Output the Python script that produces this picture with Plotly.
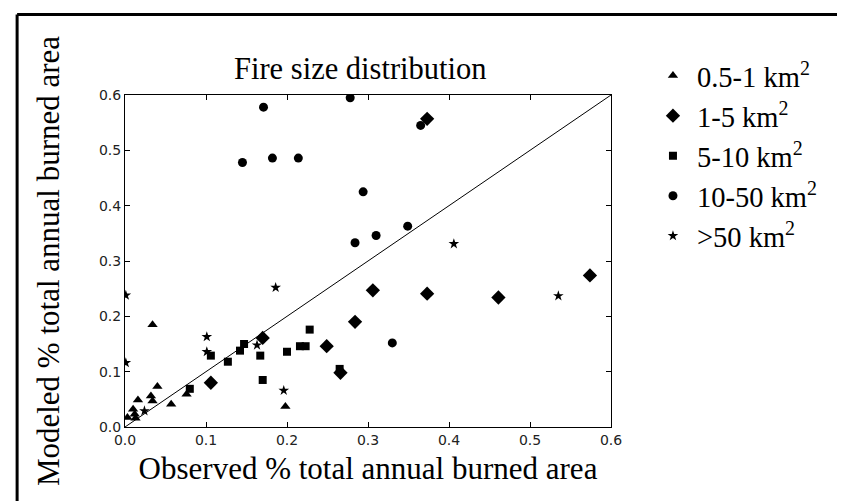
import plotly.graph_objects as go

# ---- data ----
tri_x = [0.003, 0.010, 0.012, 0.013, 0.016, 0.032, 0.034, 0.040, 0.057, 0.076, 0.034, 0.198]
tri_y = [0.017, 0.032, 0.023, 0.016, 0.049, 0.056, 0.047, 0.073, 0.041, 0.059, 0.185, 0.037]

dia_x = [0.106, 0.170, 0.249, 0.266, 0.284, 0.306, 0.373, 0.461, 0.574, 0.373]
dia_y = [0.080, 0.161, 0.146, 0.098, 0.190, 0.247, 0.241, 0.234, 0.274, 0.557]

sq_x = [0.080, 0.106, 0.127, 0.142, 0.147, 0.167, 0.170, 0.200, 0.216, 0.223, 0.228, 0.265]
sq_y = [0.069, 0.129, 0.118, 0.138, 0.150, 0.129, 0.085, 0.136, 0.146, 0.146, 0.176, 0.105]

circ_x = [0.145, 0.171, 0.182, 0.214, 0.278, 0.284, 0.294, 0.310, 0.330, 0.349, 0.365]
circ_y = [0.478, 0.578, 0.486, 0.486, 0.595, 0.333, 0.425, 0.346, 0.152, 0.363, 0.545]

star_x = [0.001, 0.001, 0.024, 0.101, 0.101, 0.163, 0.186, 0.196, 0.406, 0.535]
star_y = [0.238, 0.116, 0.029, 0.163, 0.136, 0.148, 0.252, 0.066, 0.331, 0.237]

one_to_one = [0.0, 0.6]

series_names = ["0.5-1 km<sup>2</sup>", "1-5 km<sup>2</sup>", "5-10 km<sup>2</sup>",
                "10-50 km<sup>2</sup>", ">50 km<sup>2</sup>"]
tick_vals = [0.0, 0.1, 0.2, 0.3, 0.4, 0.5, 0.6]

# ---- figure ----
W, H = 845, 501
L, R, T, B = 116.5, 242, 86.5, 82
pw, ph = W - L - R, H - T - B

def px_x(p):
    return (p - L) / pw

def px_y(p):
    return (H - B - p) / ph

fig = go.Figure()

fig.add_trace(go.Scatter(x=one_to_one, y=one_to_one, mode="lines",
                         line=dict(color="black", width=1), showlegend=False,
                         hoverinfo="skip"))

specs = [
    (tri_x, tri_y, "triangle-up", 9),
    (dia_x, dia_y, "diamond", 11),
    (sq_x, sq_y, "square", 8),
    (circ_x, circ_y, "circle", 9),
    (star_x, star_y, "star", 8),
]
for i, ((xs, ys, sym, sz), name) in enumerate(zip(specs, series_names)):
    fig.add_trace(go.Scatter(
        x=xs, y=ys, mode="markers", name=name, legendgroup=f"g{i}",
        marker=dict(symbol=sym, size=sz, color="black",
                    line=dict(color="black", width=0)),
    ))

axis_common = dict(
    range=[0, 0.6], tickvals=tick_vals, tickformat=".1f",
    showgrid=False, zeroline=False, showline=True, linecolor="black",
    linewidth=1, mirror="allticks", ticks="inside", ticklen=5,
    tickcolor="black", tickfont=dict(family="DejaVu Sans", size=14, color="#222"),
    fixedrange=True,
)

fig.update_layout(
    width=W, height=H,
    margin=dict(l=L, r=R, t=T, b=B, autoexpand=False),
    paper_bgcolor="white", plot_bgcolor="white",
    title=dict(text="Fire size distribution", x=px_x(352), xanchor="center",
               xref="paper", y=1, yref="paper", yanchor="bottom", pad=dict(b=16),
               font=dict(family="Liberation Serif", size=30.5, color="black")),
    xaxis=dict(**axis_common,
               title=dict(text="Observed % total annual burned area", standoff=10,
                          font=dict(family="Liberation Serif", size=31, color="black"))),
    yaxis=dict(**axis_common,
               title=dict(text="Modeled % total annual burned area", standoff=30,
                          font=dict(family="Liberation Serif", size=31, color="black"))),
    legend=dict(x=px_x(641), xanchor="left", y=px_y(42), yanchor="top",
                font=dict(family="Liberation Serif", size=28.5, color="black"),
                tracegroupgap=0, itemwidth=38,
                bgcolor="rgba(0,0,0,0)", borderwidth=0),
    shapes=[
        dict(type="line", xref="paper", yref="paper",
             x0=px_x(8.5), x1=px_x(860), y0=px_y(6), y1=px_y(6),
             line=dict(color="black", width=3)),
        dict(type="line", xref="paper", yref="paper",
             x0=px_x(8.5), x1=px_x(8.5), y0=px_y(6), y1=px_y(520),
             line=dict(color="black", width=3)),
    ],
)

fig.write_html("out.html", config={"displayModeBar": False})
